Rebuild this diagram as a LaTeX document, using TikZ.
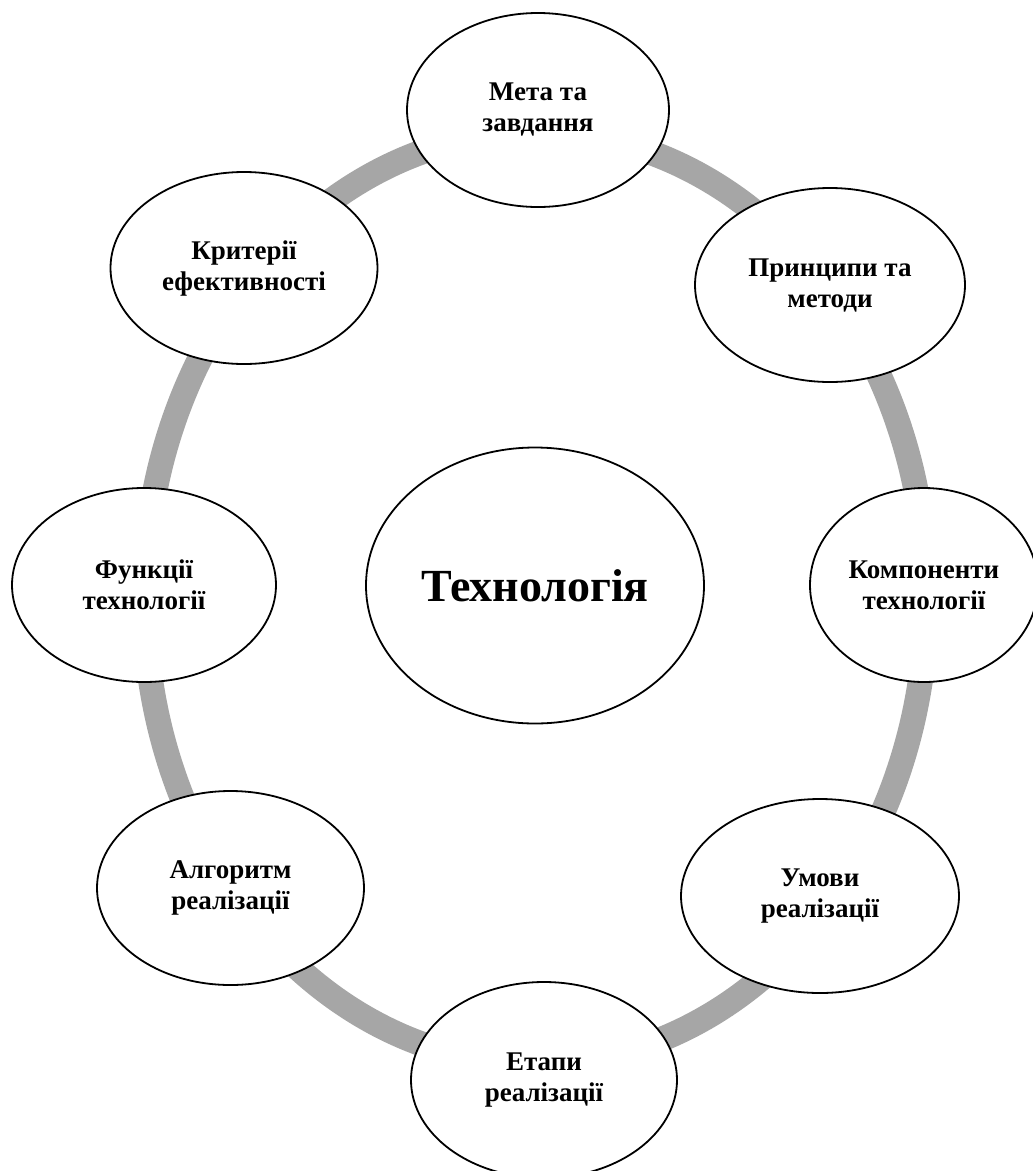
\documentclass[tikz,border=0pt]{standalone}
\usepackage{fontspec}
\setmainfont{Liberation Serif}
\usetikzlibrary{shapes.geometric}
\definecolor{ringgrey}{HTML}{A6A6A6}
\tikzset{
  ringline/.style={draw=ringgrey, line width=25pt},
  bub/.style={ellipse, draw=black, line width=1.8pt, fill=white, inner sep=0pt,
    align=center, font=\bfseries\fontsize{27}{31}\selectfont},
  bigbub/.style={bub, font=\bfseries\fontsize{46}{52}\selectfont}
}
\begin{document}
\begin{tikzpicture}[x=1pt,y=-1pt]
\useasboundingbox (0,0) rectangle (1033,1171);
\clip (0,0) rectangle (1033,1171);
\fill[white] (0,0) rectangle (1033,1171);
\draw[ringline] (535.5,598) ellipse [x radius=391pt, y radius=466pt];
\node[bub, minimum width=262pt, minimum height=194pt] (meta) at (538,110) {Мета та\\завдання};
\node[bub, minimum width=270pt, minimum height=194pt] (pryn) at (830,285) {Принципи та\\методи};
\node[bub, minimum width=228pt, minimum height=194pt] (komp) at (924,585) {Компоненти\\технології};
\node[bub, minimum width=278pt, minimum height=194pt] (umovy) at (820,896) {Умови\\реалізації};
\node[bub, minimum width=266pt, minimum height=196pt] (etapy) at (544,1080) {Етапи\\реалізації};
\node[bub, minimum width=267pt, minimum height=194pt] (alg) at (230.5,888) {Алгоритм\\реалізації};
\node[bub, minimum width=264pt, minimum height=194pt] (funk) at (144,585) {Функції\\технології};
\node[bub, minimum width=267pt, minimum height=192pt] (kryt) at (244,268) {Критерії\\ефективності};
\node[bigbub, minimum width=338pt, minimum height=276pt] (tech) at (535,585.5) {Технологія};
\end{tikzpicture}
\end{document}
